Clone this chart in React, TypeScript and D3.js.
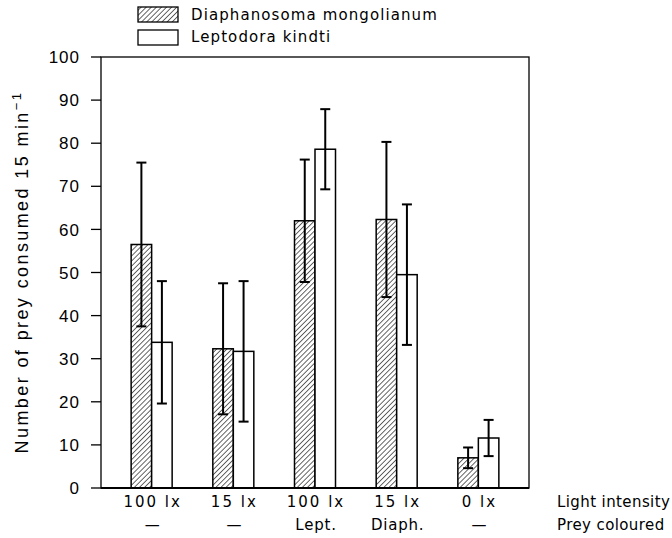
import React from "react";
import { scaleLinear, scalePoint } from "d3";

const groups = ["100 lx", "15 lx", "100 lx ", "15 lx ", "0 lx"];
const lightLabels = ["100 lx", "15 lx", "100 lx", "15 lx", "0 lx"];
const preyLabels = ["—", "—", "Lept.", "Diaph.", "—"];
const diaphMean = [56.5, 32.3, 62.0, 62.3, 7.0];
const diaphErr = [19.0, 15.2, 14.2, 18.0, 2.4];
const leptMean = [33.8, 31.7, 78.6, 49.5, 11.6];
const leptErr = [14.2, 16.3, 9.3, 16.3, 4.2];
const yTicks = [0, 10, 20, 30, 40, 50, 60, 70, 80, 90, 100];
const seriesNames = ["Diaphanosoma mongolianum", "Leptodora kindti"];

const W = 672;
const H = 538;
const left = 101, right = 529, top = 57, bottom = 488;
const barW = 20.5;
const cap = 5;

export default function App() {
  const y = scaleLinear().domain([0, 100]).range([bottom, top]);
  const x = scalePoint<string>().domain(groups).range([left, right]).padding(0.62);
  const font = "'DejaVu Sans', sans-serif";
  const axisFont = "'Liberation Sans', Arial, sans-serif";

  const errBar = (cx: number, m: number, e: number, key: string) => (
    <g key={key} stroke="#000" strokeWidth={2}>
      <line x1={cx} x2={cx} y1={y(m + e)} y2={y(m - e)} />
      <line x1={cx - cap} x2={cx + cap} y1={y(m + e)} y2={y(m + e)} />
      <line x1={cx - cap} x2={cx + cap} y1={y(m - e)} y2={y(m - e)} />
    </g>
  );

  return (
    <svg width={W} height={H} style={{ position: "absolute", left: 0, top: 0, background: "#fff" }}>
      <defs>
        <pattern id="hatch" patternUnits="userSpaceOnUse" width={3.6} height={3.6} patternTransform="rotate(45)">
          <rect width={3.6} height={3.6} fill="#fff" />
          <line x1={0} y1={0} x2={0} y2={3.6} stroke="#000" strokeWidth={1.2} />
        </pattern>
      </defs>

      {/* legend */}
      <rect x={138} y={7} width={40} height={15} fill="url(#hatch)" stroke="#000" strokeWidth={1.3} />
      <rect x={138} y={30} width={40} height={15} fill="#fff" stroke="#000" strokeWidth={1.3} />
      <text x={191} y={20} fontFamily={font} fontSize={15} letterSpacing={1.1}>{seriesNames[0]}</text>
      <text x={191} y={42} fontFamily={font} fontSize={15} letterSpacing={1.1}>{seriesNames[1]}</text>

      {/* frame */}
      <rect x={left} y={top} width={right - left} height={bottom - top} fill="none" stroke="#000" strokeWidth={1.3} />

      {/* bars */}
      {groups.map((g, i) => {
        const cx = x(g) as number;
        return (
          <g key={g}>
            <rect x={cx - barW} y={y(diaphMean[i])} width={barW} height={bottom - y(diaphMean[i])}
              fill="url(#hatch)" stroke="#000" strokeWidth={1.5} />
            <rect x={cx} y={y(leptMean[i])} width={barW} height={bottom - y(leptMean[i])}
              fill="#fff" stroke="#000" strokeWidth={1.5} />
            {errBar(cx - barW / 2, diaphMean[i], diaphErr[i], "d" + i)}
            {errBar(cx + barW / 2, leptMean[i], leptErr[i], "l" + i)}
          </g>
        );
      })}
      <line x1={left} x2={right} y1={bottom} y2={bottom} stroke="#000" strokeWidth={2} />

      {/* y axis */}
      {yTicks.map((t) => (
        <g key={t}>
          <line x1={left - 10} x2={left} y1={y(t)} y2={y(t)} stroke="#000" strokeWidth={1.3} />
          <text x={left - 21} y={y(t)} dy="0.36em" textAnchor="end" fontFamily={axisFont} fontSize={17} letterSpacing={1}>{t}</text>
        </g>
      ))}
      <text transform={`translate(28,272) rotate(-90)`} textAnchor="middle"
        fontFamily={axisFont} fontSize={18} letterSpacing={2.4}>
        Number of prey consumed 15 min<tspan dy={-7} fontSize={13}>−1</tspan>
      </text>

      {/* x labels */}
      {groups.map((g, i) => (
        <g key={"xl" + i}>
          <text x={(x(g) as number) + 1} y={507} textAnchor="middle" fontFamily={font} fontSize={15} letterSpacing={2}>{lightLabels[i]}</text>
          <text x={(x(g) as number) + 1} y={530} textAnchor="middle" fontFamily={font} fontSize={15} letterSpacing={0.8}>{preyLabels[i]}</text>
        </g>
      ))}
      <text x={557} y={507} fontFamily={font} fontSize={15} letterSpacing={0.4}>Light intensity</text>
      <text x={557} y={530} fontFamily={font} fontSize={15} letterSpacing={0.4}>Prey coloured</text>
    </svg>
  );
}
